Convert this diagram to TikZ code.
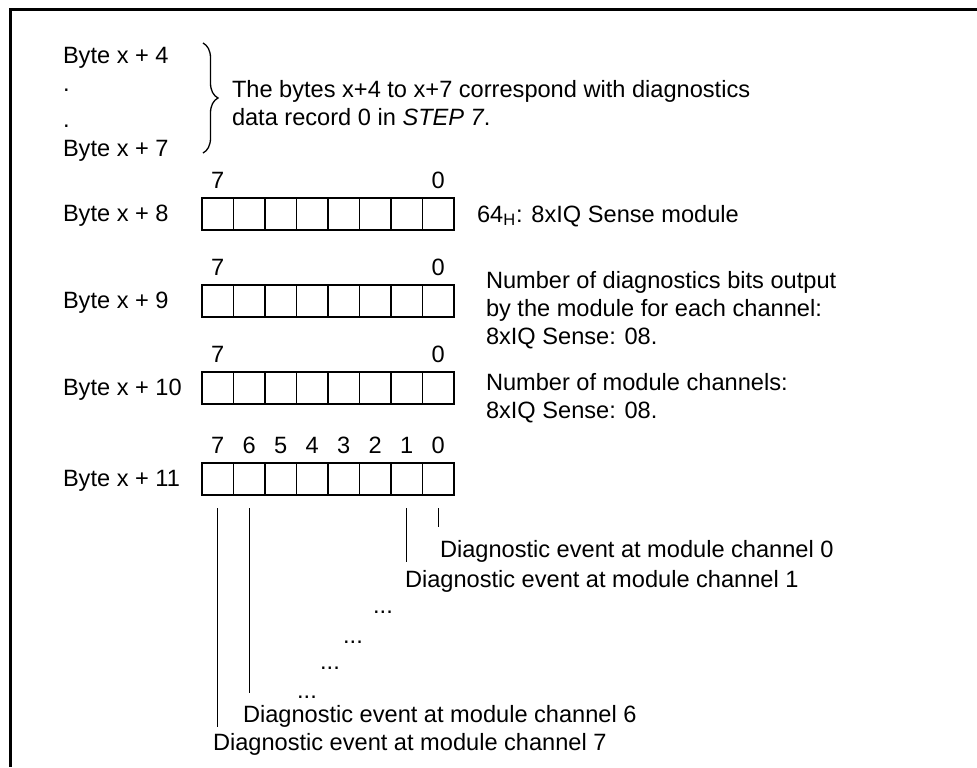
\documentclass[tikz,border=0pt]{standalone}
\usepackage{fontspec}
\setmainfont{Liberation Sans}
\usetikzlibrary{decorations.pathreplacing}

\begin{document}
\begin{tikzpicture}[x=0.5pt,y=-0.5pt]
    \tikzstyle{every node}=[inner sep=0pt,outer sep=0pt,font=\fontsize{11.8}{14}\selectfont]
    \tikzstyle{txt}=[anchor=base west]
    \tikzstyle{bitnum}=[anchor=base]
    \tikzstyle{cell}=[rectangle,draw,line width=0.9pt,minimum width=15.75pt,minimum height=16pt]
    \tikzstyle{lead}=[line width=0.65pt]
    \useasboundingbox (0,0) rectangle (977,767);
    % frame
    \draw[line width=1.3pt] (977,9.5) -- (10.7,9.5) -- (10.7,767);
    % bytes x+4 .. x+7
    \node[txt] (b4) at (63,63) {Byte x + 4};
    \node[txt] (dot1) at (63,91) {.};
    \node[txt] (dot2) at (63,127) {.};
    \node[txt] (b7) at (63,156) {Byte x + 7};
    \coordinate (brtop) at (203,43);
    \coordinate (brbot) at (203,153);
    \draw[lead,decorate,decoration={brace,amplitude=7.5pt}] (brtop) -- (brbot);
    \node[txt] (rec1) at (232,97) {The bytes x+4 to x+7 correspond with diagnostics};
    \node[txt] (rec2) at (232,125) {data record 0 in \textit{STEP 7}.};
    % byte rows
    \foreach \r/\ty in {8/198,9/285,10/372,11/463}{
      \node[txt] (lbl\r) at (63,\ty+23) {Byte x + \r};
      \foreach \i in {0,...,7}
        \node[cell] (c\r-\i) at ({202+(7-\i+0.5)*31.5},\ty+16) {};
    }
    \foreach \r in {8,9,10}{
      \node[bitnum] (n\r-7) at ([yshift=5pt]c\r-7.north) {7};
      \node[bitnum] (n\r-0) at ([yshift=5pt]c\r-0.north) {0};
    }
    \foreach \i in {0,...,7}
      \node[bitnum] (n11-\i) at ([yshift=5pt]c11-\i.north) {\i};
    % descriptions
    \node[txt] (m8) at (477,222) {64\textsubscript{H}: 8xIQ Sense module};
    \node[txt] (m9a) at (486,288) {Number of diagnostics bits output};
    \node[txt] (m9b) at (486,316) {by the module for each channel:};
    \node[txt] (m9c) at (486,344) {8xIQ Sense: 08.};
    \node[txt] (m10a) at (486,390) {Number of module channels:};
    \node[txt] (m10b) at (486,418) {8xIQ Sense: 08.};
    % diagnostic events
    \foreach \i/\ye in {0/527,1/562,6/693,7/727}{
      \coordinate (end\i) at ({202+(7-\i+0.5)*31.5},\ye);
      \draw[lead] ([yshift=-6.5pt]c11-\i.south) -- (end\i);
    }
    \node[txt] (ev0) at (440,557) {Diagnostic event at module channel 0};
    \node[txt] (ev1) at (405,587) {Diagnostic event at module channel 1};
    \node[bitnum] (more1) at (383,613) {...};
    \node[bitnum] (more2) at (353,643) {...};
    \node[bitnum] (more3) at (330,669) {...};
    \node[bitnum] (more4) at (307,698) {...};
    \node[txt] (ev6) at (243,722) {Diagnostic event at module channel 6};
    \node[txt] (ev7) at (213,750) {Diagnostic event at module channel 7};
\end{tikzpicture}
\end{document}
